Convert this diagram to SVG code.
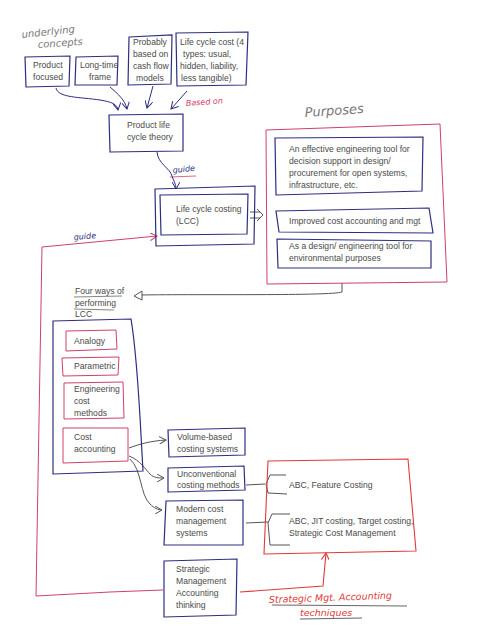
<svg xmlns="http://www.w3.org/2000/svg" width="492" height="640" viewBox="0 0 492 640">
<style>
.t{font-family:"Liberation Sans",Arial,sans-serif;font-size:8.6px;fill:#4a4a4a}
.bb{fill:none;stroke:#2e2e80;stroke-width:1.2}
.rb{fill:none;stroke:#d0406a;stroke-width:1}
.rr{fill:none;stroke:#e03a3a;stroke-width:1.1}
.hw{font-family:"DejaVu Sans",sans-serif;font-style:italic}
.cb{fill:none;stroke:#2e2e80;stroke-width:1}
.cg{fill:none;stroke:#555;stroke-width:1}
.cr{fill:none;stroke:#d0406a;stroke-width:1}
.cR{fill:none;stroke:#e03a3a;stroke-width:1.1}
</style>
<defs>
<marker id="ab" markerWidth="8" markerHeight="8" refX="7" refY="4" orient="auto" markerUnits="userSpaceOnUse"><path d="M0,0 L7,4 L0,8" fill="none" stroke="#2e2e80" stroke-width="1"/></marker>
<marker id="ag" markerWidth="8" markerHeight="8" refX="7" refY="4" orient="auto" markerUnits="userSpaceOnUse"><path d="M0,0 L7,4 L0,8" fill="none" stroke="#555" stroke-width="1"/></marker>
<marker id="ar" markerWidth="8" markerHeight="8" refX="7" refY="4" orient="auto" markerUnits="userSpaceOnUse"><path d="M0,0 L7,4 L0,8" fill="none" stroke="#d0406a" stroke-width="1"/></marker>
<marker id="aR" markerWidth="8" markerHeight="8" refX="7" refY="4" orient="auto" markerUnits="userSpaceOnUse"><path d="M0,0 L7,4 L0,8" fill="none" stroke="#e03a3a" stroke-width="1.1"/></marker>
</defs>
<rect width="492" height="640" fill="#fff"/>

<g id="labels">
<text class="hw" x="22" y="38" font-size="10" fill="#777" transform="rotate(-6 22 38)">underlying</text>
<text class="hw" x="38" y="48" font-size="10" fill="#777" transform="rotate(-4 38 48)">concepts</text>
<text class="hw" x="186" y="106" font-size="8" fill="#d0406a" transform="rotate(-4 186 106)">Based on</text>
<text class="hw" x="173" y="173" font-size="8" fill="#2e2e80" transform="rotate(-6 173 173)">guide</text>
<path d="M170,177 L196,176" stroke="#d0406a" stroke-width="0.8" fill="none"/>
<text class="hw" x="74" y="240" font-size="8" fill="#2e2e80" transform="rotate(-5 74 240)">guide</text>
<text class="hw" x="305" y="117" font-size="13" fill="#777" transform="rotate(-4 305 117)">Purposes</text>
<text class="hw" x="269" y="603" font-size="9.5" fill="#e03a3a" transform="rotate(-2 269 603)">Strategic Mgt. Accounting</text>
<path d="M272,605 L407,606" stroke="#555" stroke-width="0.9" fill="none"/>
<text class="hw" x="300" y="616" font-size="9.5" fill="#e03a3a">techniques</text>
<path d="M300,619 L362,618" stroke="#555" stroke-width="0.9" fill="none"/>
</g>

<g id="connectors">
<path class="cb" d="M56,88 C58,98 80,97 100,100 C112,102 117,104 118,110" marker-end="url(#ab)"/>
<path class="cb" d="M110,87 C118,94 125,100 127,109" marker-end="url(#ab)"/>
<path class="cb" d="M153,86 L147,108" marker-end="url(#ab)"/>
<path class="cb" d="M187,91 L171,109" marker-end="url(#ab)"/>
<path class="cb" d="M157,152 C158,164 170,168 172,176 C174,182 176,184 176,189" marker-end="url(#ab)"/>
<path class="cg" d="M250,212 L260,212 M250,218 L260,218 M257,209 L263,215 L257,221"/>
<path class="cg" d="M342,283 L342,292 C330,296 200,294 140,295"/>
<path d="M134,296 L142,291 L142,300 Z" fill="#fff" stroke="#555" stroke-width="1"/>
<path class="cr" d="M163,590 L110,592 L36,596 L42,247 L157,236" marker-end="url(#ar)"/>
<path class="cR" d="M240,592 L323,586 L326,553" marker-end="url(#aR)"/>
<path class="cg" d="M129,448 C140,444 150,441 166,440" marker-end="url(#ag)"/>
<path class="cg" d="M129,456 C140,460 146,470 150,474 C154,478 158,478 164,478" marker-end="url(#ag)"/>
<path class="cg" d="M130,459 C142,470 140,495 150,504 C154,508 158,510 162,510" marker-end="url(#ag)"/>
<path class="cg" d="M246,485 L265,484"/>
<path class="cg" d="M246,523 L268,522"/>
<path class="cg" d="M286,475 L270,475 L266,484 L268,493 L287,494"/>
<path class="cg" d="M290,514 L272,514 L268,523 L270,545 L290,545"/>
</g>

<g id="n-product-focused">
<path class="bb" d="M25,57 L70,56 L69,86 L26,87 Z"/>
<text class="t" x="33" y="68">Product</text>
<text class="t" x="33" y="80">focused</text>
</g>
<g id="n-long-time">
<path class="bb" d="M76,57 L118,56 L117,85 L75,85 Z"/>
<text class="t" x="80" y="68">Long-time</text>
<text class="t" x="89" y="80">frame</text>
</g>
<g id="n-probably">
<path class="bb" d="M129,37 L172,35 L171,84 L128,85 Z"/>
<text class="t" x="133" y="45">Probably</text>
<text class="t" x="133" y="57">based on</text>
<text class="t" x="133" y="69">cash flow</text>
<text class="t" x="136" y="81">models</text>
</g>
<g id="n-lcc-cost">
<path class="bb" d="M176,33 L248,32 L246,85 L177,86 Z"/>
<text class="t" x="180" y="45">Life cycle cost (4</text>
<text class="t" x="183" y="57">types: usual,</text>
<text class="t" x="180" y="69">hidden, liability,</text>
<text class="t" x="181" y="81">less tangible)</text>
</g>
<g id="n-plc-theory">
<path class="bb" d="M109,115 L183,114 L183,151 L110,152 Z"/>
<text class="t" x="127" y="128">Product life</text>
<text class="t" x="127" y="140">cycle theory</text>
</g>
<g id="n-lcc">
<path class="bb" d="M155,189 L255,186 L254,244 L156,246 Z"/>
<path class="bb" d="M160,195 L248,194 L247,234 L161,235 Z"/>
<text class="t" x="176" y="212">Life cycle costing</text>
<text class="t" x="176" y="224">(LCC)</text>
</g>
<g id="n-purposes">
<path class="rb" d="M266,130 L440,124 L447,282 L267,284 Z"/>
<path class="bb" d="M275,138 L423,137 L422,191 L276,195 Z" stroke-width="1"/>
<text class="t" x="289" y="152">An effective engineering tool for</text>
<text class="t" x="289" y="164">decision support in design/</text>
<text class="t" x="289" y="176">procurement for open systems,</text>
<text class="t" x="289" y="188">infrastructure, etc.</text>
<path class="bb" d="M276,211 L429,208 L433,233 L279,232 Z" stroke-width="1"/>
<text class="t" x="289" y="224">Improved cost accounting and mgt</text>
<path class="bb" d="M277,239 L431,241 L431,268 L278,268 Z" stroke-width="1"/>
<text class="t" x="289" y="249">As a design/ engineering tool for</text>
<text class="t" x="289" y="261">environmental purposes</text>
</g>
<g id="n-four-ways">
<text class="t" x="75" y="294">Four ways of</text>
<path d="M74,297 L122,296" stroke="#666" stroke-width="0.8"/>
<text class="t" x="75" y="306">performing</text>
<path d="M74,309 L114,310" stroke="#666" stroke-width="0.8"/>
<text class="t" x="75" y="317">LCC</text>
<path class="bb" d="M53,321 L131,319 C138,360 140,420 143,471 L53,474 Z"/>
</g>
<g id="n-analogy">
<path class="rb" d="M66,331 L116,330 L117,349 L66,351 Z"/>
<text class="t" x="74" y="344">Analogy</text>
</g>
<g id="n-parametric">
<path class="rb" d="M62,358 L119,357 L118,375 L63,376 Z"/>
<text class="t" x="74" y="369">Parametric</text>
</g>
<g id="n-engineering">
<path class="rb" d="M64,383 L123,382 L124,418 L64,419 Z"/>
<text class="t" x="74" y="392">Engineering</text>
<text class="t" x="74" y="404">cost</text>
<text class="t" x="74" y="416">methods</text>
</g>
<g id="n-cost-accounting">
<path class="rb" d="M63,428 L128,428 L128,461 L63,463 Z"/>
<text class="t" x="74" y="440">Cost</text>
<text class="t" x="74" y="452">accounting</text>
</g>
<g id="n-volume">
<path class="bb" d="M168,430 L245,428 L245,455 L169,457 Z"/>
<text class="t" x="177" y="440">Volume-based</text>
<text class="t" x="177" y="452">costing systems</text>
</g>
<g id="n-unconventional">
<path class="bb" d="M168,468 L244,466 L245,490 L168,492 Z"/>
<text class="t" x="177" y="477">Unconventional</text>
<text class="t" x="177" y="488">costing methods</text>
</g>
<g id="n-modern">
<path class="bb" d="M166,501 L243,500 L243,545 L164,545 Z"/>
<text class="t" x="176" y="512">Modern cost</text>
<text class="t" x="176" y="524">management</text>
<text class="t" x="176" y="536">systems</text>
</g>
<g id="n-techniques">
<path class="rr" d="M268,461 L408,459 L416,551 L264,554 Z"/>
<text class="t" x="289" y="488">ABC, Feature Costing</text>
<text class="t" x="289" y="524">ABC, JIT costing, Target costing,</text>
<text class="t" x="289" y="536">Strategic Cost Management</text>
</g>
<g id="n-sma-thinking">
<path class="bb" d="M164,561 L237,559 L236,615 L164,617 Z"/>
<text class="t" x="176" y="572">Strategic</text>
<text class="t" x="176" y="584">Management</text>
<text class="t" x="176" y="596">Accounting</text>
<text class="t" x="176" y="608">thinking</text>
</g>
</svg>
